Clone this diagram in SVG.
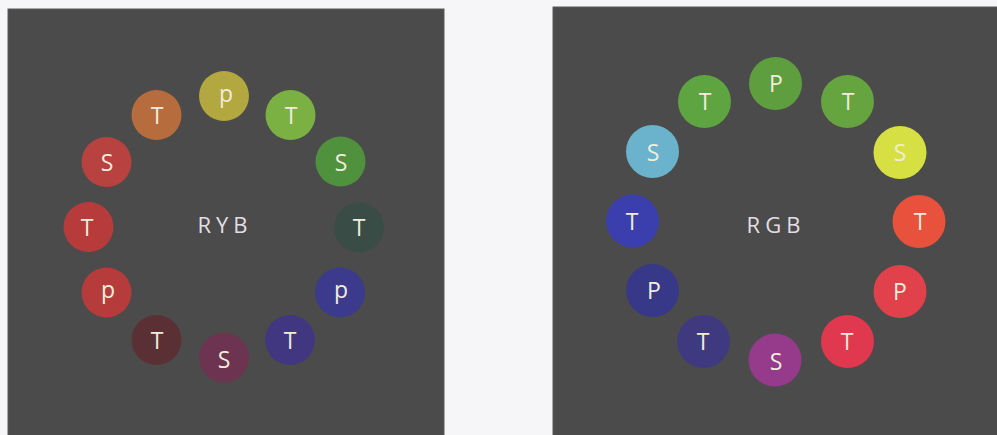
<svg xmlns="http://www.w3.org/2000/svg" width="997" height="435" viewBox="0 0 997 435">
<style>
.panel{fill:#4b4b4b;stroke:#5a5a5a;stroke-width:1}
.lbl{font-family:"Open Sans","Noto Sans","Liberation Sans",sans-serif;font-size:23px;fill:#f1ecdc;text-anchor:middle}
.title{font-family:"Open Sans","Noto Sans","Liberation Sans",sans-serif;font-size:22px;fill:#e4dfe4;text-anchor:middle;letter-spacing:5px}
</style>
<rect x="0" y="0" width="997" height="435" fill="#f6f6f8"/>
<g id="panel-ryb">
<rect class="panel" x="8" y="9" width="436" height="430"/>
<text class="title" x="225" y="233">RYB</text>
</g>
<g id="panel-rgb">
<rect class="panel" x="553" y="7" width="450" height="432"/>
<text class="title" x="776" y="233">RGB</text>
</g>
<g id="connectors"></g>
<g id="ryb-p-top"><circle cx="224" cy="96" r="25" fill="#b3a73f"/><text class="lbl" x="226" y="102">p</text></g>
<g id="ryb-t-1"><circle cx="290.5" cy="115" r="25" fill="#7bb043"/><text class="lbl" x="291" y="124">T</text></g>
<g id="ryb-s-1"><circle cx="340.5" cy="161.5" r="25" fill="#4f913c"/><text class="lbl" x="341" y="171">S</text></g>
<g id="ryb-t-2"><circle cx="359" cy="227.5" r="25" fill="#394c45"/><text class="lbl" x="359" y="236">T</text></g>
<g id="ryb-p-2"><circle cx="340" cy="292.5" r="25" fill="#3b3a8c"/><text class="lbl" x="341" y="298">p</text></g>
<g id="ryb-t-3"><circle cx="290" cy="340" r="25" fill="#413781"/><text class="lbl" x="290" y="349">T</text></g>
<g id="ryb-s-2"><circle cx="224" cy="357.5" r="25" fill="#6c3450"/><text class="lbl" x="224" y="368">S</text></g>
<g id="ryb-t-4"><circle cx="156.5" cy="340" r="25" fill="#5b3034"/><text class="lbl" x="157" y="349">T</text></g>
<g id="ryb-p-3"><circle cx="106.5" cy="292.5" r="25" fill="#b53c3b"/><text class="lbl" x="108" y="298">p</text></g>
<g id="ryb-t-5"><circle cx="88.5" cy="227" r="25" fill="#b83b3b"/><text class="lbl" x="87" y="236">T</text></g>
<g id="ryb-s-3"><circle cx="106.5" cy="162" r="25" fill="#b8423f"/><text class="lbl" x="107" y="171">S</text></g>
<g id="ryb-t-6"><circle cx="156.5" cy="115" r="25" fill="#b76c3e"/><text class="lbl" x="157" y="124">T</text></g>
<g id="rgb-p-top"><circle cx="775.5" cy="83.5" r="26.5" fill="#5e9e3e"/><text class="lbl" x="776" y="92">P</text></g>
<g id="rgb-t-1"><circle cx="847.5" cy="101.5" r="26.5" fill="#65a43e"/><text class="lbl" x="848" y="110">T</text></g>
<g id="rgb-s-1"><circle cx="900" cy="152.5" r="26.5" fill="#d6e043"/><text class="lbl" x="900" y="161">S</text></g>
<g id="rgb-t-2"><circle cx="919" cy="221.5" r="26.5" fill="#e8513b"/><text class="lbl" x="920" y="230">T</text></g>
<g id="rgb-p-2"><circle cx="900" cy="291.5" r="26.5" fill="#e0414a"/><text class="lbl" x="900" y="300">P</text></g>
<g id="rgb-t-3"><circle cx="847.5" cy="341.5" r="26.5" fill="#e0384e"/><text class="lbl" x="847" y="350">T</text></g>
<g id="rgb-s-2"><circle cx="775" cy="360" r="26.5" fill="#963a8c"/><text class="lbl" x="776" y="370">S</text></g>
<g id="rgb-t-4"><circle cx="703.5" cy="341.5" r="26.5" fill="#3f3a80"/><text class="lbl" x="703" y="350">T</text></g>
<g id="rgb-p-3"><circle cx="652.5" cy="290.5" r="26.5" fill="#373988"/><text class="lbl" x="654" y="299">P</text></g>
<g id="rgb-t-5"><circle cx="632.5" cy="221" r="26.5" fill="#3b3fae"/><text class="lbl" x="632" y="230">T</text></g>
<g id="rgb-s-3"><circle cx="652.5" cy="151.5" r="26.5" fill="#6bb3cc"/><text class="lbl" x="653" y="161">S</text></g>
<g id="rgb-t-6"><circle cx="704.5" cy="101.5" r="26.5" fill="#5ea441"/><text class="lbl" x="705" y="110">T</text></g>
</svg>
